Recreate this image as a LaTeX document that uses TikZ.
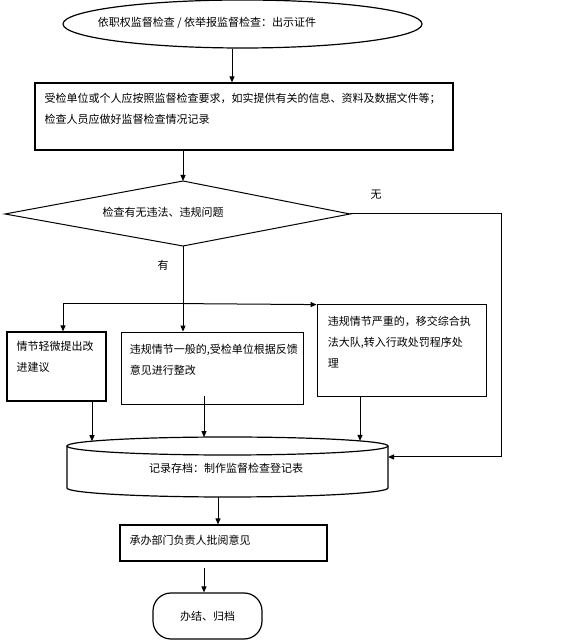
\documentclass[tikz,border=0pt]{standalone}
\usepackage{fontspec}
\newfontfamily\cjk{Noto Sans CJK SC}
\usetikzlibrary{shapes.geometric, arrows.meta, positioning}

\begin{document}
\begin{tikzpicture}[x=1pt, y=1pt,
    box/.style={draw, rectangle, line width=1.2pt, inner sep=0pt},
    thinbox/.style={box, line width=0.8pt},
    txt/.style={inner sep=0pt, align=left, font=\cjk\fontsize{11}{21}\selectfont},
    flow/.style={line width=1pt, -{Triangle[length=6pt, width=5pt]}},
    plain/.style={line width=1pt}]
    \useasboundingbox (0,0) rectangle (576,642);

    % start
    \node[ellipse, draw, line width=1.2pt, minimum width=359, minimum height=48, inner sep=0pt] (start) at (242.5,618) {};
    \node[txt] (starttxt) at (207,619) {依职权监督检查 / 依举报监督检查：出示证件};

    % check
    \node[box, minimum width=418, minimum height=67] (check) at (244,525.5) {};
    \node[txt, anchor=north west] (checktxt) at ([xshift=10,yshift=-11]check.north west)
        {受检单位或个人应按照监督检查要求，如实提供有关的信息、资料及数据文件等；\\检查人员应做好监督检查情况记录};
    \draw[flow] ([xshift=-10.5]start.south) -- ([xshift=-12]check.north);

    % decision
    \coordinate (dl) at (5,428);
    \coordinate (dt) at (183,461);
    \coordinate (dr) at (350,428);
    \coordinate (db) at (183,396);
    \draw[plain] (dl) -- (dt) -- (dr) -- (db) -- cycle;
    \node[txt] (judge) at (163,430) {检查有无违法、违规问题};
    \draw[flow] (check.south -| dt) -- (dt);
    \node[txt] (no) at (376,447) {无};
    \node[txt] (yes) at (163,377) {有};

    % three cases
    \node[box, minimum width=99, minimum height=69] (mild) at (56.5,275.5) {};
    \node[txt, anchor=north west] (mildtxt) at ([xshift=10,yshift=-10]mild.north west) {情节轻微提出改\\进建议};
    \node[thinbox, minimum width=182, minimum height=72] (mid) at (212,274) {};
    \node[txt, anchor=north west] (midtxt) at ([xshift=9,yshift=-12]mid.north west) {违规情节一般的,受检单位根据反馈\\意见进行整改};
    \node[thinbox, minimum width=169, minimum height=92] (serious) at (401.5,292) {};
    \node[txt, anchor=north west] (serioustxt) at ([xshift=11,yshift=-12]serious.north west) {违规情节严重的，移交综合执\\法大队,转入行政处罚程序处\\理};

    \coordinate (fork) at (db |- serious.north west);
    \draw[flow] (db) -- (mid.north -| db);
    \draw[flow] (fork) -| ([xshift=6.5]mild.north);
    \draw[flow] (fork) -- ([yshift=-1]serious.north west);

    % archive
    \coordinate (in1) at (92,200.8);
    \coordinate (in2) at (204,204.9);
    \coordinate (in3) at (360,201.1);
    \coordinate (inR) at (388,185);
    \coordinate (cylB) at (218,145);
    \coordinate (rc) at (501,428);
    \draw[line width=1.2pt] (227.5,196) ellipse [x radius=160.5pt, y radius=9pt];
    \draw[line width=1.2pt] (67,196) -- (67,154) arc [start angle=180, end angle=360, x radius=160.5pt, y radius=9pt] -- (388,196);
    \node[txt] (archive) at (226,174) {记录存档：制作监督检查登记表};

    \draw[flow] ([xshift=35.5]mild.south) -- (in1);
    \draw[flow] ([xshift=-8,yshift=8]mid.south) -- (in2);
    \draw[flow] ([xshift=-41.5]serious.south) -- (in3);
    \draw[flow] (dr) -- (rc) |- (inR);

    % review and end
    \node[box, minimum width=207, minimum height=36] (review) at (223.5,99) {};
    \node[txt, anchor=west] (reviewtxt) at ([xshift=10,yshift=3]review.west) {承办部门负责人批阅意见};
    \draw[flow] (cylB) -- (review.north -| cylB);

    \node[draw, line width=1.2pt, rounded corners=18pt, minimum width=109, minimum height=46, inner sep=0pt] (finish) at (207.5,26) {};
    \node[txt] (finishtxt) at (finish.center) {办结、归档};
    \draw[flow] ([xshift=-19.5,yshift=-6]review.south) -- ([xshift=-3.5]finish.north);
\end{tikzpicture}
\end{document}
